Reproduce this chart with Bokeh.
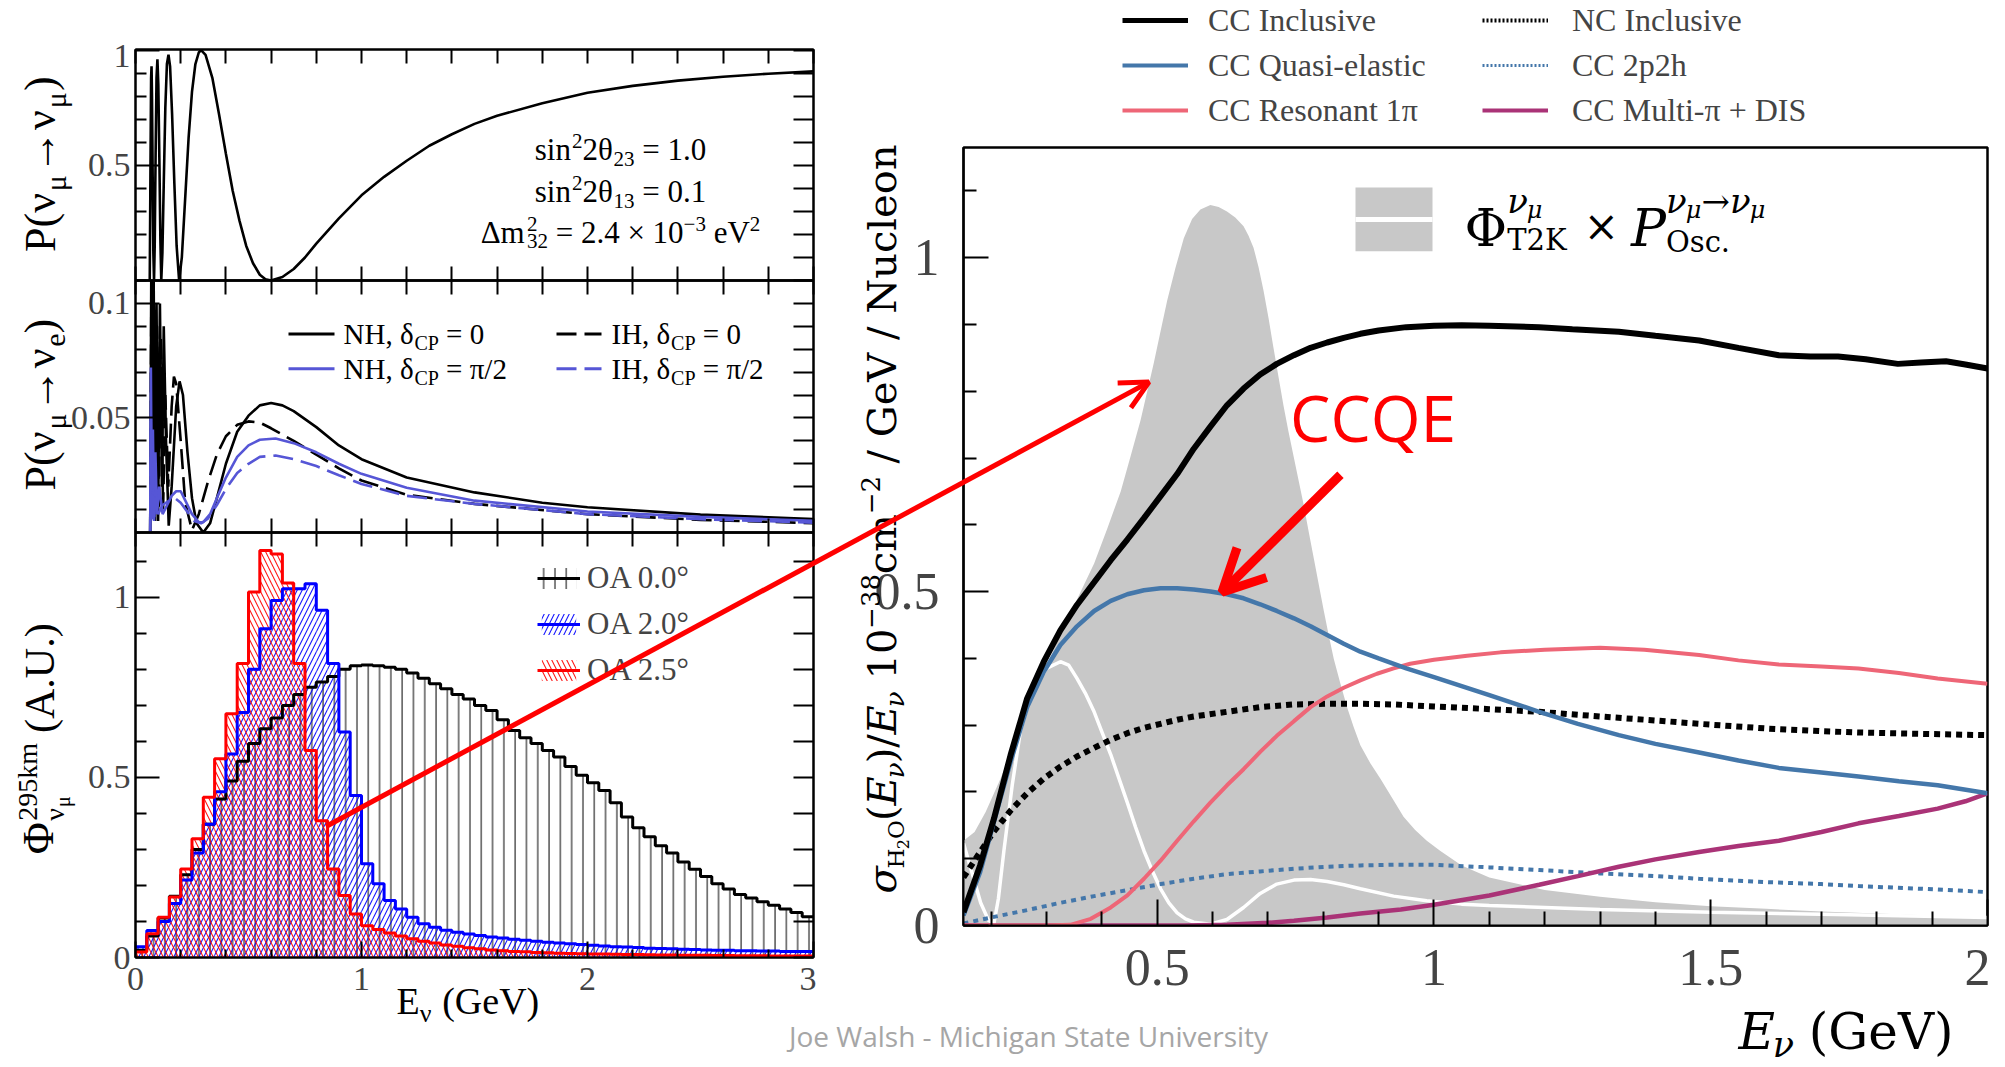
import math
from bokeh.plotting import figure
from bokeh.models import (Range1d, LinearAxis, FixedTicker, NumeralTickFormatter, Label,
                          Arrow, OpenHead, Legend, LegendItem, GridBox)
from bokeh.embed import file_html
from bokeh.resources import INLINE

W, H = 2005, 1067

# ======================= DATA =======================
# --- top-left: P(nu_mu -> nu_mu) vs E (GeV)
surv_E = [0.063, 0.066, 0.069, 0.071, 0.073, 0.076, 0.079, 0.082, 0.085, 0.089, 0.093, 0.097, 0.101,
          0.106, 0.110, 0.114, 0.119, 0.125, 0.132, 0.139, 0.146, 0.153, 0.162, 0.172, 0.182, 0.193,
          0.205, 0.22, 0.235, 0.25, 0.265, 0.28, 0.29, 0.31, 0.34, 0.37, 0.40, 0.43, 0.46, 0.49, 0.52,
          0.55, 0.575, 0.60, 0.65, 0.70, 0.75, 0.80, 0.90, 1.0, 1.1, 1.2, 1.3, 1.4, 1.5, 1.6, 1.8, 2.0,
          2.2, 2.4, 2.6, 2.8, 3.0]
surv_P = [0.0, 0.45, 0.88, 0.93, 0.80, 0.45, 0.12, 0.0, 0.15, 0.55, 0.88, 0.96, 0.85,
          0.50, 0.18, 0.0, 0.12, 0.42, 0.75, 0.94, 0.98, 0.93, 0.72, 0.42, 0.15, 0.0,
          0.10, 0.36, 0.62, 0.82, 0.94, 0.99, 1.0, 0.98, 0.88, 0.72, 0.55, 0.39, 0.26, 0.15, 0.075,
          0.025, 0.005, 0.0, 0.015, 0.05, 0.10, 0.16, 0.27, 0.37, 0.45, 0.52, 0.585, 0.635, 0.68, 0.715,
          0.77, 0.815, 0.845, 0.868, 0.885, 0.898, 0.908]

# --- middle-left: P(nu_mu -> nu_e), (E, P) pairs
app_nh0 = [(0.065, 0.0), (0.070, 0.118), (0.075, 0.03), (0.080, 0.118), (0.086, 0.01), (0.093, 0.10),
           (0.100, 0.005), (0.108, 0.10), (0.117, 0.02), (0.125, 0.09), (0.135, 0.04), (0.147, 0.003),
           (0.16, 0.02), (0.18, 0.055), (0.195, 0.066), (0.21, 0.06), (0.23, 0.035), (0.25, 0.015),
           (0.27, 0.004), (0.30, 0.0), (0.33, 0.004), (0.36, 0.015), (0.40, 0.030), (0.45, 0.044),
           (0.50, 0.051), (0.55, 0.0555), (0.60, 0.0565), (0.65, 0.0555), (0.70, 0.053), (0.80, 0.046),
           (0.90, 0.038), (1.00, 0.032), (1.2, 0.024), (1.5, 0.0175), (1.8, 0.013), (2.0, 0.011),
           (2.5, 0.0078), (3.0, 0.0059)]
app_ih0 = [(0.065, 0.0), (0.070, 0.10), (0.075, 0.01), (0.080, 0.11), (0.087, 0.005), (0.095, 0.09),
           (0.103, 0.01), (0.112, 0.085), (0.122, 0.01), (0.132, 0.06), (0.145, 0.02), (0.16, 0.055),
           (0.17, 0.068), (0.18, 0.065), (0.20, 0.04), (0.22, 0.013), (0.25, 0.001), (0.28, 0.008),
           (0.32, 0.022), (0.36, 0.034), (0.40, 0.042), (0.45, 0.047), (0.50, 0.0485), (0.55, 0.048),
           (0.60, 0.0455), (0.70, 0.040), (0.80, 0.034), (0.90, 0.028), (1.0, 0.0227), (1.2, 0.0165),
           (1.5, 0.0125), (2.0, 0.008), (2.5, 0.0055), (3.0, 0.0041)]
app_nhpi = [(0.065, 0.0), (0.068, 0.072), (0.072, 0.01), (0.077, 0.045), (0.082, 0.005), (0.088, 0.035),
            (0.095, 0.008), (0.105, 0.020), (0.12, 0.008), (0.14, 0.012), (0.16, 0.016), (0.18, 0.018),
            (0.20, 0.018), (0.22, 0.014), (0.25, 0.008), (0.28, 0.0045), (0.30, 0.0045), (0.33, 0.008),
            (0.36, 0.015), (0.40, 0.024), (0.45, 0.033), (0.50, 0.038), (0.55, 0.0405), (0.62, 0.041),
            (0.70, 0.039), (0.80, 0.035), (0.90, 0.030), (1.0, 0.0256), (1.2, 0.0195), (1.5, 0.0139),
            (2.0, 0.0092), (2.5, 0.0068), (3.0, 0.0051)]
app_ihpi = [(0.065, 0.0), (0.068, 0.05), (0.072, 0.005), (0.077, 0.03), (0.082, 0.005), (0.09, 0.02),
            (0.10, 0.008), (0.12, 0.012), (0.15, 0.014), (0.175, 0.015), (0.20, 0.013), (0.23, 0.009),
            (0.26, 0.005), (0.29, 0.004), (0.32, 0.006), (0.36, 0.012), (0.40, 0.019), (0.45, 0.026),
            (0.50, 0.030), (0.55, 0.033), (0.62, 0.0336), (0.70, 0.032), (0.80, 0.029), (0.90, 0.025),
            (1.0, 0.0212), (1.2, 0.016), (1.5, 0.0125), (2.0, 0.008), (2.5, 0.0058), (3.0, 0.0043)]

# --- bottom-left: flux histograms, 60 bins of 0.05 GeV from 0 to 3 GeV
flux_bin_width = 0.05
flux_oa00 = [0.02, 0.06, 0.11, 0.17, 0.23, 0.30, 0.37, 0.44, 0.49, 0.545, 0.594, 0.635, 0.665, 0.70,
             0.73, 0.75, 0.765, 0.78, 0.80, 0.81, 0.812, 0.81, 0.806, 0.80, 0.79, 0.775, 0.76, 0.746,
             0.73, 0.718, 0.70, 0.686, 0.66, 0.63, 0.61, 0.594, 0.575, 0.557, 0.53, 0.506, 0.485, 0.464,
             0.43, 0.39, 0.36, 0.335, 0.31, 0.29, 0.265, 0.245, 0.225, 0.205, 0.19, 0.175, 0.165, 0.155,
             0.145, 0.135, 0.125, 0.113]
flux_oa20 = [0.03, 0.075, 0.10, 0.15, 0.215, 0.29, 0.37, 0.46, 0.565, 0.68, 0.80, 0.913, 0.991, 1.024,
             1.024, 1.038, 0.964, 0.816, 0.626, 0.45, 0.26, 0.205, 0.158, 0.135, 0.112, 0.094, 0.084,
             0.076, 0.07, 0.065, 0.061, 0.057, 0.054, 0.051, 0.048, 0.045, 0.042, 0.04, 0.038, 0.036,
             0.034, 0.032, 0.03, 0.029, 0.028, 0.026, 0.025, 0.024, 0.023, 0.022, 0.021, 0.02, 0.02,
             0.019, 0.019, 0.018, 0.018, 0.017, 0.017, 0.017]
flux_oa25 = [0.015, 0.066, 0.112, 0.168, 0.246, 0.33, 0.445, 0.552, 0.677, 0.816, 1.015, 1.13, 1.12,
             1.04, 0.816, 0.575, 0.38, 0.246, 0.172, 0.121, 0.088, 0.078, 0.068, 0.06, 0.052, 0.045,
             0.04, 0.035, 0.031, 0.027, 0.024, 0.021, 0.019, 0.017, 0.016, 0.014, 0.013, 0.012, 0.011,
             0.0105, 0.01, 0.0095, 0.009, 0.0085, 0.008, 0.0075, 0.007, 0.007, 0.0065, 0.006, 0.006,
             0.0055, 0.0055, 0.005, 0.005, 0.005, 0.0045, 0.0045, 0.0045, 0.004]
flux_labels = ["OA 0.0°", "OA 2.0°", "OA 2.5°"]

# --- right: cross sections / E (1e-38 cm^2 / GeV / nucleon), (E, value) pairs
xs_cc_incl = [(0.15, 0.02), (0.18, 0.09), (0.205, 0.16), (0.235, 0.255), (0.265, 0.34), (0.295, 0.395),
              (0.325, 0.442), (0.355, 0.48), (0.386, 0.514), (0.416, 0.547), (0.446, 0.578), (0.476, 0.61),
              (0.506, 0.643), (0.536, 0.676), (0.566, 0.714), (0.596, 0.747), (0.626, 0.779), (0.656, 0.804),
              (0.686, 0.825), (0.716, 0.841), (0.747, 0.854), (0.777, 0.865), (0.807, 0.873), (0.837, 0.88),
              (0.867, 0.886), (0.9, 0.891), (0.95, 0.896), (1.0, 0.898), (1.05, 0.899), (1.1, 0.898),
              (1.19, 0.896), (1.25, 0.893), (1.334, 0.889), (1.4, 0.883), (1.479, 0.876), (1.55, 0.865),
              (1.623, 0.854), (1.68, 0.852), (1.73, 0.852), (1.78, 0.848), (1.838, 0.841), (1.88, 0.843),
              (1.925, 0.845), (1.96, 0.84), (2.0, 0.834)]
xs_ccqe = [(0.15, 0.015), (0.18, 0.08), (0.205, 0.155), (0.235, 0.245), (0.265, 0.327), (0.295, 0.38),
           (0.325, 0.42), (0.355, 0.448), (0.386, 0.471), (0.416, 0.486), (0.446, 0.496), (0.476, 0.502),
           (0.506, 0.505), (0.536, 0.505), (0.566, 0.503), (0.596, 0.5), (0.626, 0.496), (0.656, 0.49),
           (0.686, 0.481), (0.716, 0.471), (0.747, 0.46), (0.777, 0.448), (0.807, 0.435), (0.837, 0.422),
           (0.867, 0.41), (0.9, 0.4), (0.95, 0.385), (1.0, 0.372), (1.1, 0.345), (1.19, 0.32),
           (1.26, 0.302), (1.334, 0.285), (1.4, 0.272), (1.479, 0.259), (1.55, 0.247), (1.623, 0.236),
           (1.7, 0.229), (1.767, 0.223), (1.84, 0.216), (1.91, 0.21), (2.0, 0.198)]
xs_res = [(0.15, 0.0), (0.30, 0.0), (0.343, 0.001), (0.38, 0.01), (0.416, 0.027), (0.446, 0.045),
          (0.476, 0.07), (0.506, 0.097), (0.536, 0.127), (0.566, 0.156), (0.596, 0.184), (0.626, 0.21),
          (0.656, 0.234), (0.686, 0.26), (0.716, 0.284), (0.747, 0.306), (0.777, 0.327), (0.807, 0.343),
          (0.837, 0.356), (0.867, 0.367), (0.897, 0.377), (0.927, 0.385), (0.957, 0.392), (1.0, 0.398),
          (1.06, 0.404), (1.12, 0.409), (1.2, 0.413), (1.3, 0.416), (1.38, 0.413), (1.479, 0.405),
          (1.55, 0.397), (1.623, 0.391), (1.7, 0.388), (1.767, 0.385), (1.84, 0.378), (1.91, 0.37),
          (2.0, 0.362)]
xs_nc = [(0.15, 0.072), (0.18, 0.11), (0.205, 0.141), (0.235, 0.172), (0.265, 0.198), (0.295, 0.22),
         (0.325, 0.238), (0.355, 0.253), (0.386, 0.266), (0.416, 0.278), (0.446, 0.288), (0.476, 0.296),
         (0.506, 0.302), (0.536, 0.308), (0.566, 0.313), (0.626, 0.32), (0.686, 0.327), (0.747, 0.331),
         (0.807, 0.332), (0.867, 0.332), (0.927, 0.331), (1.0, 0.328), (1.1, 0.324), (1.19, 0.32),
         (1.3, 0.313), (1.4, 0.307), (1.479, 0.302), (1.6, 0.295), (1.7, 0.291), (1.767, 0.289),
         (1.88, 0.287), (2.0, 0.285)]
xs_2p2h = [(0.15, 0.003), (0.2, 0.012), (0.265, 0.023), (0.325, 0.034), (0.386, 0.044), (0.446, 0.053),
           (0.506, 0.062), (0.566, 0.07), (0.626, 0.077), (0.686, 0.081), (0.747, 0.085), (0.807, 0.088),
           (0.867, 0.09), (0.93, 0.091), (1.0, 0.091), (1.1, 0.087), (1.19, 0.083), (1.3, 0.078),
           (1.4, 0.074), (1.479, 0.07), (1.6, 0.065), (1.7, 0.062), (1.767, 0.059), (1.88, 0.055),
           (2.0, 0.05)]
xs_multipi = [(0.15, 0.0), (0.55, 0.0), (0.626, 0.001), (0.7, 0.004), (0.747, 0.007), (0.807, 0.012),
              (0.867, 0.018), (0.94, 0.024), (1.0, 0.031), (1.1, 0.045), (1.19, 0.061), (1.26, 0.074),
              (1.334, 0.088), (1.4, 0.099), (1.479, 0.11), (1.55, 0.119), (1.623, 0.127), (1.7, 0.14),
              (1.767, 0.153), (1.84, 0.164), (1.91, 0.175), (1.96, 0.186), (2.0, 0.198)]
flux_shape = [(0.15, 0.127), (0.17, 0.14), (0.19, 0.17), (0.217, 0.22), (0.24, 0.27), (0.265, 0.327),
              (0.295, 0.38), (0.325, 0.435), (0.355, 0.488), (0.386, 0.542), (0.41, 0.595), (0.434, 0.65),
              (0.452, 0.703), (0.47, 0.757), (0.482, 0.80), (0.494, 0.843), (0.506, 0.89), (0.518, 0.936),
              (0.533, 0.985), (0.548, 1.029), (0.563, 1.058), (0.578, 1.072), (0.596, 1.079), (0.611, 1.076),
              (0.626, 1.069), (0.641, 1.06), (0.656, 1.047), (0.665, 1.033), (0.674, 1.015), (0.683, 0.986),
              (0.692, 0.951), (0.701, 0.91), (0.71, 0.865), (0.719, 0.822), (0.728, 0.779), (0.737, 0.74),
              (0.747, 0.70), (0.756, 0.664), (0.765, 0.628), (0.774, 0.588), (0.783, 0.549), (0.792, 0.51),
              (0.801, 0.471), (0.81, 0.434), (0.819, 0.399), (0.831, 0.362), (0.843, 0.327), (0.855, 0.297),
              (0.867, 0.27), (0.885, 0.243), (0.903, 0.22), (0.925, 0.19), (0.945, 0.163), (0.966, 0.143),
              (0.987, 0.127), (1.011, 0.112), (1.05, 0.09), (1.1, 0.072), (1.2, 0.053), (1.3, 0.043),
              (1.4, 0.035), (1.5, 0.029), (1.6, 0.025), (1.7, 0.021), (1.8, 0.018), (1.9, 0.015), (2.0, 0.013)]
flux_osc = [(0.15, 0.123), (0.165, 0.08), (0.181, 0.034), (0.195, 0.008), (0.205, 0.003), (0.213, 0.04),
            (0.223, 0.112), (0.238, 0.21), (0.253, 0.292), (0.268, 0.335), (0.283, 0.363), (0.3, 0.385),
            (0.325, 0.395), (0.34, 0.39), (0.355, 0.37), (0.37, 0.348), (0.386, 0.32), (0.40, 0.29),
            (0.416, 0.256), (0.431, 0.22), (0.446, 0.184), (0.461, 0.147), (0.476, 0.112), (0.491, 0.082),
            (0.506, 0.055), (0.521, 0.034), (0.536, 0.019), (0.551, 0.01), (0.566, 0.005), (0.596, 0.002),
            (0.626, 0.009), (0.656, 0.027), (0.686, 0.048), (0.716, 0.062), (0.747, 0.068), (0.777, 0.069),
            (0.807, 0.066), (0.837, 0.061), (0.867, 0.055), (0.927, 0.044), (0.987, 0.037), (1.05, 0.032),
            (1.1, 0.03), (1.3, 0.024), (1.5, 0.02), (1.75, 0.016), (2.0, 0.012)]

# annotation anchors (data coordinates of the panels they point at)
long_arrow_tail = (0.843, 0.353)   # in bottom-left flux panel
long_arrow_tip = (0.485, 0.811)    # in right cross-section panel
ccqe_arrow_tail = (0.831, 0.675)
ccqe_arrow_tip = (0.617, 0.499)
ccqe_text_pos = (0.74, 0.722)

# ======================= LAYOUT (page pixels) =======================
# every figure uses the same borders; its canvas is offset with a margin
BL, BR, BT, BB = 135, 3, 5, 125
L_X0, L_X1 = 135, 813
TOP_Y0, TOP_Y1 = 49, 280
MID_Y0, MID_Y1 = 280, 532
BOT_Y0, BOT_Y1 = 532, 957
R_X0, R_X1 = 963, 1987
R_Y0, R_Y1 = 147, 925
L_XR = (0.0, 3.0)
TOP_YR = (0.0, 1.003)
MID_YR = (0.0, 0.11)
BOT_YR = (0.0, 1.18)
R_XR = (0.15, 2.0)
R_YR = (0.0, 1.165)

SERIF = "Liberation Serif"
DJV = "DejaVu Serif"
SANS = "Open Sans"
# empirical baseline correction (fraction of font size) for text drawn with alphabetic baseline
BASE_FIX = {SERIF: 0.33, DJV: 0.32, SANS: 0.40}
ROT_FIX = 0.40

TIMES = {' ': 0.25, '(': 0.333, ')': 0.333, '+': 0.564, ',': 0.25, '-': 0.333, '.': 0.25, '/': 0.278,
         '=': 0.564, '×': 0.564, '°': 0.4, '→': 1.0, '−': 0.564,
         'A': 0.722, 'C': 0.667, 'D': 0.722, 'E': 0.611, 'G': 0.722, 'H': 0.722, 'I': 0.333, 'K': 0.722,
         'N': 0.722, 'O': 0.722, 'P': 0.556, 'S': 0.556, 'T': 0.611, 'U': 0.722, 'V': 0.722,
         'a': 0.444, 'c': 0.444, 'e': 0.444, 'i': 0.278, 'k': 0.5, 'l': 0.278, 'm': 0.778, 'n': 0.5,
         'o': 0.5, 's': 0.389, 't': 0.278, 'u': 0.5,
         'Δ': 0.65, 'Φ': 0.76, 'δ': 0.5, 'θ': 0.5, 'μ': 0.576, 'ν': 0.5, 'π': 0.55, 'σ': 0.55}
for d in "0123456789":
    TIMES[d] = 0.5
DEJAVU = {' ': 0.318, '(': 0.39, ')': 0.39, '/': 0.337, '.': 0.318, '-': 0.338, '=': 0.838, '×': 0.838,
          '→': 0.838, '−': 0.838, 'C': 0.734, 'E': 0.683, 'G': 0.775, 'H': 0.837, 'K': 0.773, 'N': 0.812,
          'O': 0.787, 'P': 0.673, 'T': 0.682, 'V': 0.722, 'a': 0.596, 'c': 0.56, 'e': 0.592, 'i': 0.32,
          'l': 0.32, 'm': 0.948, 'n': 0.64, 'o': 0.602, 's': 0.513, 'u': 0.64, 'Φ': 0.82, 'ν': 0.58,
          'μ': 0.66, 'σ': 0.63}
for d in "0123456789":
    DEJAVU[d] = 0.636


def tw(s, size, table):
    return sum(table.get(ch, 0.55) for ch in s) * size


def rich(p, x, y, parts, font, table, angle=0.0, anchor="left", color="black"):
    """Draw a run of text pieces (sub/superscripts) starting at baseline point (x, y) in page pixels."""
    total = 0.0
    for part in parts:
        total += part[1] if part[0] is None else tw(part[0], part[1], table)
    adv = {"left": 0.0, "center": -total / 2.0, "right": -total}[anchor]
    for part in parts:
        if part[0] is None:
            adv += part[1]
            continue
        text, size, rise, italic = part
        stripped = text.lstrip(" ")
        adv += tw(text[:len(text) - len(stripped)], size, table)
        if angle == 0:
            px, py = x + adv, y - rise - BASE_FIX[font] * size
        else:
            px, py = x - rise - ROT_FIX * size, y - adv
        p.add_layout(Label(x=px, y=py, text=stripped, angle=angle, text_font=font,
                           text_font_size=f"{size}px",
                           text_font_style="italic" if italic else "normal",
                           text_color=color, text_baseline="alphabetic", text_align="left"))
        adv += tw(stripped, size, table)


def panel(x0, x1, y0, y1, xr, yr):
    p = figure(width=(x1 - x0) + BL + BR, height=(y1 - y0) + BT + BB,
               x_range=Range1d(*xr), y_range=Range1d(*yr),
               output_backend="svg", toolbar_location=None,
               min_border_left=BL, min_border_right=BR, min_border_top=BT, min_border_bottom=BB,
               background_fill_color=None, border_fill_color=None,
               margin=(y0 - BT, 0, 0, x0 - BL))
    p.xgrid.visible = False
    p.ygrid.visible = False
    p.outline_line_color = "black"
    p.outline_line_width = 2
    return p


def overlay(shift_left):
    """Transparent full-width canvas whose frame is used in page-pixel coordinates."""
    f0 = -BL if shift_left else 0
    x0 = f0 + BL
    x1 = f0 + W - BR
    ov = figure(width=W, height=H + BT + BB, x_range=Range1d(x0, x1), y_range=Range1d(H, 0),
                output_backend="svg", toolbar_location=None,
                min_border_left=BL, min_border_right=BR, min_border_top=BT, min_border_bottom=BB,
                x_axis_location=None, y_axis_location=None,
                background_fill_color=None, border_fill_color=None, outline_line_color=None,
                margin=(-BT, 0, 0, f0))
    ov.xgrid.visible = False
    ov.ygrid.visible = False
    return ov


def style_axis(ax, ticks, minor, font, size, maj, mnr, labels, standoff, lw=2):
    if labels:
        ax.ticker = FixedTicker(ticks=ticks, minor_ticks=minor)
        ax.formatter = NumeralTickFormatter(format="0.[00]")
        ax.major_label_text_font = font
        ax.major_label_text_font_size = f"{size}px"
        ax.major_label_standoff = standoff
        ax.major_tick_in = maj
        ax.minor_tick_in = mnr
    else:
        # unlabeled mirror axis: every tick drawn as a minor tick, so no tick text at all
        ax.ticker = FixedTicker(ticks=[], minor_ticks=sorted(list(ticks) + list(minor)))
        ax.major_label_standoff = 0
        ax.minor_tick_in = int(round(0.5 * (maj + mnr) + 2))
        ax.major_tick_in = 0
    ax.major_tick_out = 0
    ax.minor_tick_out = 0
    ax.major_tick_line_width = lw
    ax.minor_tick_line_width = lw
    ax.axis_line_width = lw
    ax.axis_label = None


LX_MAJ = [0, 1, 2, 3]
LX_MIN = [round(0.2 * i, 1) for i in range(1, 15) if i not in (5, 10)]


def left_panel(y0, y1, yr, yt, ymin, show_x_labels):
    p = panel(L_X0, L_X1, y0, y1, L_XR, yr)
    style_axis(p.xaxis[0], LX_MAJ, LX_MIN, SERIF, 34, 16, 8, show_x_labels, 10)
    style_axis(p.yaxis[0], yt, ymin, SERIF, 34, 24, 11, True, 5)
    ax_r = LinearAxis()
    p.add_layout(ax_r, "right")
    style_axis(ax_r, yt, ymin, SERIF, 34, 24, 11, False, 0)
    ax_t = LinearAxis()
    p.add_layout(ax_t, "above")
    style_axis(ax_t, LX_MAJ, LX_MIN, SERIF, 34, 16, 8, False, 0)
    return p


def px_x(v, x0, x1, r):
    return x0 + (v - r[0]) / (r[1] - r[0]) * (x1 - x0)


def px_y(v, y0, y1, r):
    return y1 - (v - r[0]) / (r[1] - r[0]) * (y1 - y0)


# ======================= TOP-LEFT =======================
p_top = left_panel(TOP_Y0, TOP_Y1, TOP_YR, [0.5, 1.0], [round(0.1 * i, 1) for i in range(1, 10) if i != 5], False)
p_top.line(surv_E, surv_P, line_color="black", line_width=2.6)

# ======================= MIDDLE-LEFT =======================
p_mid = left_panel(MID_Y0, MID_Y1, MID_YR, [0.05, 0.1], [round(0.01 * i, 2) for i in range(1, 12) if i not in (5, 10)], False)
BLUE_OSC = "#5656d6"
for pts, col, dash in [(app_nh0, "black", "solid"), (app_ih0, "black", "20 8"),
                       (app_nhpi, BLUE_OSC, "solid"), (app_ihpi, BLUE_OSC, "20 8")]:
    xs, ys = zip(*pts)
    p_mid.line(list(xs), list(ys), line_color=col, line_width=2.6, line_dash=dash)

# ======================= BOTTOM-LEFT =======================
p_bot = left_panel(BOT_Y0, BOT_Y1, BOT_YR, [0, 0.5, 1.0], [round(0.1 * i, 1) for i in range(1, 12) if i not in (5, 10)], True)
nb = len(flux_oa00)
edges = [round(flux_bin_width * i, 3) for i in range(nb + 1)]
hist_specs = [(flux_oa00, "black", "vertical_line", 11.3),
              (flux_oa20, "#0000ff", "right_diagonal_line", 10),
              (flux_oa25, "#ff0000", "left_diagonal_line", 10)]
quads, steps = [], []
for vals, col, pat, sc in hist_specs:
    q = p_bot.quad(left=edges[:-1], right=edges[1:], top=vals, bottom=0,
                   fill_alpha=0, line_alpha=0, hatch_pattern=pat, hatch_color=col,
                   hatch_scale=sc, hatch_weight=1.1, hatch_alpha=0.9)
    quads.append(q)
for vals, col, pat, sc in hist_specs:
    s = p_bot.step(x=edges, y=list(vals) + [vals[-1]], mode="after", line_color=col, line_width=3)
    steps.append(s)
leg_h = Legend(items=[LegendItem(label=flux_labels[i], renderers=[quads[i], steps[i]]) for i in range(3)],
               location=(537 - L_X0, BOT_Y1 - 688), orientation="vertical",
               glyph_width=43, glyph_height=26, label_height=26, spacing=10, padding=0, margin=0,
               label_standoff=7, label_text_font=SERIF, label_text_font_size="31px",
               border_line_alpha=0, background_fill_alpha=0)
p_bot.add_layout(leg_h)

# ======================= RIGHT =======================
p_r = panel(R_X0, R_X1, R_Y0, R_Y1, R_XR, R_YR)
p_r.outline_line_width = 2.5
style_axis(p_r.xaxis[0], [0.5, 1, 1.5, 2], [round(0.1 * i, 1) for i in range(2, 20) if i not in (5, 10, 15)],
           SERIF, 52, 26, 14, True, 24)
style_axis(p_r.yaxis[0], [0, 0.5, 1.0], [round(0.1 * i, 1) for i in range(1, 12) if i not in (5, 10)],
           SERIF, 52, 25, 13, True, 24)

fx, fy = zip(*flux_shape)
p_r.varea(x=list(fx), y1=0, y2=list(fy), fill_color="#c8c8c8")
wx, wy = zip(*flux_osc)
p_r.line(list(wx), list(wy), line_color="white", line_width=3.5)

C_QE, C_RES, C_MULTI = "#4477aa", "#ee6677", "#aa3377"
for pts, col, w, dash in [(xs_2p2h, C_QE, 4, "5 5"), (xs_nc, "black", 6, "6 5"),
                          (xs_multipi, C_MULTI, 4.5, "solid"), (xs_res, C_RES, 4, "solid"),
                          (xs_ccqe, C_QE, 4.5, "solid"), (xs_cc_incl, "black", 6, "solid")]:
    xs, ys = zip(*pts)
    p_r.line(list(xs), list(ys), line_color=col, line_width=w, line_dash=dash)

r_px_per_unit = (R_Y1 - R_Y0) / (R_YR[1] - R_YR[0])
p_r.add_layout(Label(x=ccqe_text_pos[0], y=ccqe_text_pos[1] + BASE_FIX[SANS] * 64 / r_px_per_unit,
                     text="CCQE", text_font=SANS, text_font_size="64px", text_color="#ff0000",
                     text_baseline="alphabetic"))
p_r.add_layout(Arrow(x_start=ccqe_arrow_tail[0], y_start=ccqe_arrow_tail[1],
                     x_end=ccqe_arrow_tip[0], y_end=ccqe_arrow_tip[1],
                     line_color="#ff0000", line_width=9,
                     end=OpenHead(size=42, line_color="#ff0000", line_width=9)))

# ======================= OVERLAYS (slide annotations, page-pixel coordinates) =======================
ovA = overlay(shift_left=True)    # frame covers page x 0 .. W-BL-BR  (left-hand texts)
ovB = overlay(shift_left=False)   # frame covers page x BL .. W-BR    (right-hand texts)

# left y-axis titles
rich(ovA, 58, (TOP_Y0 + TOP_Y1) / 2, [("P(ν", 44, 0, False), ("μ", 30, -9, False), ("→ν", 44, 0, False),
                                      ("μ", 30, -9, False), (")", 44, 0, False)],
     SERIF, TIMES, angle=math.pi / 2, anchor="center")
rich(ovA, 58, (MID_Y0 + MID_Y1) / 2, [("P(ν", 44, 0, False), ("μ", 30, -9, False), ("→ν", 44, 0, False),
                                      ("e", 30, -9, False), (")", 44, 0, False)],
     SERIF, TIMES, angle=math.pi / 2, anchor="center")
rich(ovA, 56, 742, [("Φ", 44, 0, False), ("295km", 28, 18, False), (None, -tw("295km", 28, TIMES)),
                    ("ν", 28, -9, False), ("μ", 20, -14, False),
                    (None, tw("295km", 28, TIMES) - tw("ν", 28, TIMES) - tw("μ", 20, TIMES)),
                    (" (A.U.)", 42, 0, False)],
     SERIF, TIMES, angle=math.pi / 2, anchor="center")
# left x-axis title
rich(ovA, 396, 1018, [("E", 38, 0, False), ("ν", 26, -8, False), (" (GeV)", 38, 0, False)], SERIF, TIMES)

# top-left parameter text
rich(ovA, 620, 160, [("sin", 31, 0, False), (None, 1), ("2", 21, 12, False), ("2θ", 31, 0, False),
                     ("23", 21, -6, False), (" = 1.0", 31, 0, False)], SERIF, TIMES, anchor="center")
rich(ovA, 620, 202, [("sin", 31, 0, False), (None, 1), ("2", 21, 12, False), ("2θ", 31, 0, False),
                     ("13", 21, -6, False), (" = 0.1", 31, 0, False)], SERIF, TIMES, anchor="center")
rich(ovA, 620, 243, [("Δm", 31, 0, False), (None, 2), ("2", 21, 12, False), (None, -10.5), ("32", 21, -6, False),
                     (" = 2.4 × 10", 31, 0, False), ("−3", 21, 12, False), (" eV", 31, 0, False),
                     ("2", 21, 12, False)], SERIF, TIMES, anchor="center")

# middle-left legend (manual, for subscripts)
mid_leg = [(0, 0, "NH", " = 0", "black", "solid"), (1, 0, "IH", " = 0", "black", "20 8"),
           (0, 1, "NH", " = π/2", BLUE_OSC, "solid"), (1, 1, "IH", " = π/2", BLUE_OSC, "20 8")]
leg_cols = [(288, 334, 343), (556, 601, 611)]
leg_rows = [335, 370]
for c, r, hname, tail, col, dash in mid_leg:
    x0, x1, tx = leg_cols[c]
    yy = leg_rows[r]
    ovA.segment(x0=[x0], y0=[yy], x1=[x1], y1=[yy], line_color=col, line_width=3, line_dash=dash)
    rich(ovA, tx, yy + 10, [(hname + ", δ", 29, 0, False), ("CP", 20, -6, False), (tail, 29, 0, False)],
         SERIF, TIMES)

# right axis titles
rich(ovB, 897, (149 + 898) / 2,
     [("σ", 40, 0, True), ("H", 23, -8, False), ("2", 16, -12, False), ("O", 23, -8, False),
      ("(", 40, 0, False), ("E", 40, 0, True), ("ν", 26, -8, True), (")/", 40, 0, False),
      ("E", 40, 0, True), ("ν", 26, -8, True), (" 10", 40, 0, False), ("−38", 26, 17, False),
      ("cm", 40, 0, False), ("−2", 26, 17, False), (" / GeV / Nucleon", 40, 0, False)],
     DJV, DEJAVU, angle=math.pi / 2, anchor="center")
rich(ovB, 1738, 1052, [("E", 50, 0, True), ("ν", 35, -9, True), (" (GeV)", 50, 0, False)], DJV, DEJAVU)

# right legend (top, outside the plot frame); location is measured from ovB's frame
r_leg_cols = [
    [("CC Inclusive", "black", 5, "solid"), ("CC Quasi-elastic", C_QE, 4, "solid"),
     ("CC Resonant 1π", C_RES, 4, "solid")],
    [("NC Inclusive", "black", 4, "2 2"), ("CC 2p2h", C_QE, 3, "2 2"),
     ("CC Multi-π + DIS", C_MULTI, 4, "solid")],
]
for (gx, stand), col_items in zip([(1122, 20), (1482, 24)], r_leg_cols):
    items = []
    for lab, col, w, dash in col_items:
        rr = ovB.line(x=[float("nan")], y=[float("nan")], line_color=col, line_width=w, line_dash=dash)
        items.append(LegendItem(label=lab, renderers=[rr]))
    ovB.add_layout(Legend(items=items, location=(gx - BL, H - 135), orientation="vertical",
                          glyph_width=66, glyph_height=40, label_height=40, spacing=5, padding=0, margin=0,
                          label_standoff=stand, label_text_font=SERIF, label_text_font_size="32px",
                          border_line_alpha=0, background_fill_alpha=0))

# grey flux legend entry
ovB.quad(left=[1355], right=[1432], top=[188], bottom=[252], fill_color="#c8c8c8", line_color=None)
ovB.segment(x0=[1355], y0=[220], x1=[1432], y1=[220], line_color="white", line_width=5)
wnu = tw("ν", 34, DEJAVU) + tw("μ", 24, DEJAVU)
rich(ovB, 1464, 245, [("Φ", 52, 0, False), ("ν", 34, 33, True), ("μ", 24, 27, True), (None, -wnu),
                      ("T2K", 29, -5, False), (None, 16), ("×", 42, 4, False), (None, 12),
                      ("P", 52, 0, True), ("ν", 34, 33, True), ("μ", 24, 27, True), ("→", 34, 33, False),
                      ("ν", 34, 33, True), ("μ", 24, 27, True)], DJV, DEJAVU)
rich(ovB, 1464 + tw("Φ", 52, DEJAVU) + tw("T2K", 29, DEJAVU) + 16 + tw("×", 42, DEJAVU) + 12 + tw("P", 52, DEJAVU),
     252, [("Osc.", 29, 0, False)], DJV, DEJAVU)

# long red arrow from the flux panel into the cross-section panel
ax0 = px_x(long_arrow_tail[0], L_X0, L_X1, L_XR)
ay0 = px_y(long_arrow_tail[1], BOT_Y0, BOT_Y1, BOT_YR)
ax1 = px_x(long_arrow_tip[0], R_X0, R_X1, R_XR)
ay1 = px_y(long_arrow_tip[1], R_Y0, R_Y1, R_YR)
ovB.add_layout(Arrow(x_start=ax0, y_start=ay0, x_end=ax1, y_end=ay1, line_color="#ff0000", line_width=5,
                     end=OpenHead(size=28, line_color="#ff0000", line_width=5)))

ovA.add_layout(Label(x=1028, y=1052 - BASE_FIX[SANS] * 28, text="Joe Walsh - Michigan State University",
                     text_align="center", text_baseline="alphabetic", text_font=SANS,
                     text_font_size="28px", text_color="#a6a6a6"))

grid = GridBox(children=[(p_top, 0, 0), (p_mid, 0, 0), (p_bot, 0, 0), (p_r, 0, 0), (ovA, 0, 0), (ovB, 0, 0)],
               height=H, styles={"overflow": "hidden"})
open("out.html", "w").write(file_html(grid, INLINE, "chart"))
